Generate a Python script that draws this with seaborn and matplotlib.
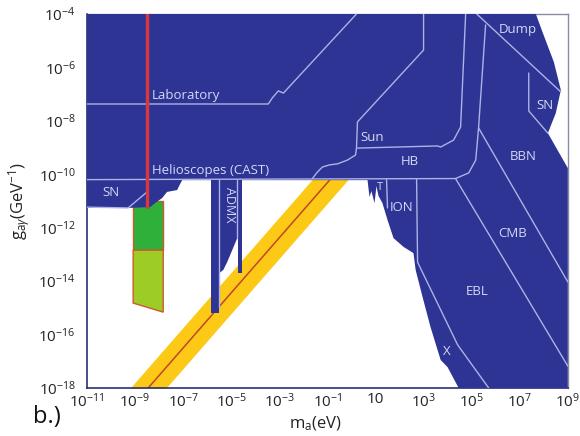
import matplotlib
matplotlib.use('Agg')
import matplotlib.pyplot as plt
import numpy as np
import seaborn as sns

# all values are log10(m_a / eV) and log10(g / GeV^-1)

# excluded region (main blob)
main_m = [-11, 7.67, 7.96, 8.42, 8.71, 8.50, 8.17, 9.0, 9.0, 4.46, 4.0, 3.71, 3.29,
          2.96, 2.67, 2.58, 2.17, 1.75, 1.5, 1.29, 1.125, 1.04, 0.96, 0.83, 0.75,
          0.67, -7.04, -7.125, -7.25, -7.67, -7.875, -8.17, -8.375, -9.29, -11]
main_g = [-4, -4, -4.71, -5.80, -6.85, -7.71, -8.46, -9.77, -18, -18, -17.22, -16.95,
          -15.72, -14.60, -13.58, -12.95, -12.72, -12.39, -11.71, -11.08, -10.81,
          -10.44, -11.08, -10.63, -10.85, -10.22, -10.22, -10.36, -10.59, -10.66,
          -10.89, -11.08, -11.23, -11.26, -11.26]

# ADMX bars
admx_left_m = [-5.83, -5.5, -5.5, -5.83]
admx_left_g = [-10.2, -10.2, -15.19, -15.19]
admx_mid_m = [-5.5, -4.75, -4.75, -4.96, -5.17, -5.33, -5.5]
admx_mid_g = [-10.2, -10.2, -12.39, -12.84, -13.29, -13.58, -13.70]
admx_right_m = [-4.71, -4.54, -4.54, -4.71]
admx_right_g = [-10.2, -10.2, -13.70, -13.70]

# boundary lines inside the excluded region
lines = {
    'lab': ([-11, -3.46, -3.29, -3.04, -2.83, 0.21], [-7.37, -7.37, -7.14, -6.88, -6.96, -4]),
    'sun': ([3.0, 3.0, 0.25, 0.21, 0.17, -0.17, -0.58, -0.92, -1.21, -1.42, -1.625],
            [-4, -5.35, -8.04, -9.02, -9.28, -9.47, -9.61, -9.65, -9.73, -9.92, -10.16]),
    'hb_top': ([0.25, 3.58, 3.71, 4.25, 4.54, 4.75], [-9.02, -8.94, -8.98, -8.72, -8.23, -4]),
    'cast': ([-11, 4.33, 4.875, 5.17, 5.29, 5.46, 5.58],
             [-10.2, -10.16, -9.95, -9.47, -8.23, -5.98, -4.41]),
    'dump': ([5.21, 8.71], [-4, -6.92]),
    'sn_r': ([7.375, 7.375, 8.17], [-6.21, -7.63, -8.46]),
    'bbn': ([5.29, 9.0], [-8.27, -14.03]),
    'cmb': ([4.33, 9.0], [-10.16, -17.18]),
    'ebl': ([2.71, 2.75, 4.42, 5.71], [-10.2, -13.29, -16.39, -18]),
    't': ([1.46, 1.5], [-10.2, -11.26]),
    'admx1': ([-5.5, -5.5], [-10.2, -15.0]),
    'admx2': ([-4.75, -4.75], [-10.2, -12.39]),
    'sn_l': ([-11, -9.29, -8.5], [-11.23, -11.26, -10.66]),
}

# QCD axion band and model line
band_m = [-10, 1]
band_up = [-18.82, -7.48]
band_lo = [-20.36, -9.02]
axion_g = [-19.59, -8.25]

# green projected regions
green_m = [-9.08, -7.83, -7.83, -9.08]
dark_green_g = [-11.0, -11.0, -12.84, -12.84]
light_green_g = [-12.84, -12.84, -15.16, -14.82]

# red vertical line
red_m = [-8.5, -8.5]
red_g = [-4, -11.23]

# region labels: text, log m, log g, rotation, size, alignment
labels = [
    ('Laboratory', -8.29, -7.07, 0, 9.5, 'left'),
    ('Helioscopes (CAST)', -8.29, -9.84, 0, 9.5, 'left'),
    ('SN', -10.0, -10.70, 0, 9.5, 'center'),
    ('ADMX', -5.08, -11.15, -90, 9, 'center'),
    ('Sun', 0.875, -8.61, 0, 9.5, 'center'),
    ('HB', 2.42, -9.54, 0, 9.5, 'center'),
    ('T', 1.17, -10.48, 0, 8, 'center'),
    ('ION', 2.08, -11.23, 0, 9.5, 'center'),
    ('Dump', 6.92, -4.6, 0, 9.5, 'center'),
    ('SN', 8.04, -7.41, 0, 9.5, 'center'),
    ('BBN', 7.125, -9.32, 0, 9.5, 'center'),
    ('CMB', 6.71, -12.2, 0, 9.5, 'center'),
    ('EBL', 5.21, -14.37, 0, 9.5, 'center'),
    ('X', 3.96, -16.65, 0, 9.5, 'center'),
]

xtick_exp = [-11, -9, -7, -5, -3, -1, 1, 3, 5, 7, 9]
ytick_exp = [-18, -16, -14, -12, -10, -8, -6, -4]

BLUE = '#2d3494'
LINE = '#aeb2e4'
TEXT = '#d6d8f4'

sns.set_theme(style='white')
plt.rcParams['font.family'] = ['Open Sans', 'DejaVu Sans']
plt.rcParams['mathtext.fontset'] = 'custom'
plt.rcParams['mathtext.rm'] = 'Open Sans'
plt.rcParams['mathtext.it'] = 'Open Sans:italic'


def p(a):
    return 10.0 ** np.asarray(a, dtype=float)


fig = plt.figure(figsize=(5.8, 4.36), dpi=100)
ax = fig.add_axes([0.15, 0.110, 0.829, 0.858])
ax.set_xscale('log')
ax.set_yscale('log')
ax.set_xlim(1e-11, 1e9)
ax.set_ylim(1e-18, 1e-4)

# axion band
ax.fill_between(p(band_m), p(band_lo), p(band_up), color='#fcc916', lw=0, zorder=1)
sns.lineplot(x=p(band_m), y=p(axion_g), sort=False, estimator=None,
             color='#c2452a', lw=1.1, ax=ax, zorder=1.5)

# green regions
ax.fill(p(green_m), p(dark_green_g), color='#2fb03a', ec='#d0592a', lw=1, zorder=2)
ax.fill(p(green_m), p(light_green_g), color='#9dcc26', ec='#d0592a', lw=1, zorder=2)

# excluded regions
for m, g in [(main_m, main_g), (admx_left_m, admx_left_g),
             (admx_mid_m, admx_mid_g), (admx_right_m, admx_right_g)]:
    ax.fill(p(m), p(g), color=BLUE, lw=0, zorder=3)

for name, (m, g) in lines.items():
    sns.lineplot(x=p(m), y=p(g), sort=False, estimator=None,
                 color=LINE, lw=1, ax=ax, zorder=4)

sns.lineplot(x=p(red_m), y=p(red_g), sort=False, estimator=None,
             color='#d9363e', lw=2.4, ax=ax, zorder=5)

for txt, m, g, rot, size, ha in labels:
    ax.text(10 ** m, 10 ** g, txt, color=TEXT, fontsize=size, rotation=rot,
            ha=ha, va='center', zorder=6)

ax.set_xticks(p(xtick_exp))
ax.set_xticklabels(['10' if e == 1 else f'$10^{{{e}}}$' for e in xtick_exp])
ax.set_yticks(p(ytick_exp))
ax.set_yticklabels([f'$10^{{{e}}}$' for e in ytick_exp])
ax.minorticks_off()
ax.tick_params(length=0, labelsize=11, colors='#222222')
ax.tick_params(axis='x', pad=3)
ax.tick_params(axis='y', pad=8)

ax.set_xlabel(r'm$_\mathrm{a}$(eV)', fontsize=12, color='#222222')
ax.set_ylabel(r'g$_{\mathrm{a}\gamma}$(GeV$^{\mathrm{-1}}$)', fontsize=12, color='#222222')
ax.xaxis.set_label_coords(0.476, -0.07)
ax.yaxis.set_label_coords(-0.114, 0.5)

for side in ['left', 'bottom']:
    ax.spines[side].set_color('#2b2f7a')
    ax.spines[side].set_linewidth(1.2)
for side in ['top', 'right']:
    ax.spines[side].set_color('#8a8ca6')
    ax.spines[side].set_linewidth(1)

fig.text(0.081, 0.044, 'b.)', fontsize=17, color='#111111', ha='center', va='center')

fig.savefig('out.png', dpi=100)
